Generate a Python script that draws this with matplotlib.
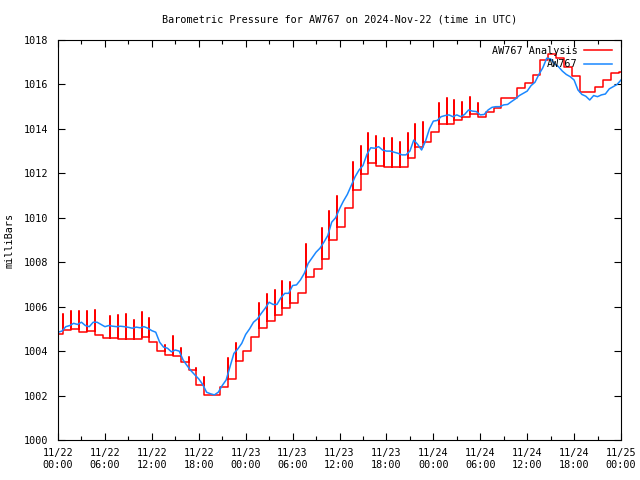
import numpy as np
import matplotlib
matplotlib.use("Agg")
from matplotlib import pyplot as plt
from matplotlib.ticker import MultipleLocator

# hours since 2024-11-22 00:00 UTC
tick_hours = list(range(0, 73, 6))
tick_labels = ["11/22\n00:00", "11/22\n06:00", "11/22\n12:00", "11/22\n18:00",
               "11/23\n00:00", "11/23\n06:00", "11/23\n12:00", "11/23\n18:00",
               "11/24\n00:00", "11/24\n06:00", "11/24\n12:00", "11/24\n18:00",
               "11/25\n00:00"]

# observed station pressure, every 30 min
obs_hours = np.arange(0, 72.01, 0.5)
obs_p = [
	1004.85, 1004.90, 1005.10, 1005.15, 1005.25, 1005.20, 1005.30, 1005.15, 1005.10, 1005.30, 1005.30, 1005.20,
	1005.10, 1005.15, 1005.12, 1005.10, 1005.12, 1005.10, 1005.07, 1005.03, 1005.08, 1005.05, 1005.10, 1005.03,
	1004.92, 1004.85, 1004.40, 1004.18, 1004.13, 1003.97, 1004.05, 1004.00, 1003.60, 1003.35, 1003.12, 1002.93,
	1002.75, 1002.50, 1002.15, 1002.08, 1002.03, 1002.15, 1002.45, 1002.70, 1003.30, 1003.90, 1004.10, 1004.35,
	1004.75, 1005.00, 1005.30, 1005.45, 1005.70, 1005.93, 1006.20, 1006.10, 1006.10, 1006.40, 1006.60, 1006.60,
	1006.95, 1006.98, 1007.20, 1007.50, 1007.95, 1008.20, 1008.45, 1008.63, 1008.90, 1009.20, 1009.80, 1010.00,
	1010.40, 1010.75, 1011.05, 1011.45, 1011.85, 1012.15, 1012.35, 1012.85, 1013.15, 1013.13, 1013.20, 1013.05,
	1013.00, 1013.00, 1012.95, 1012.90, 1012.83, 1012.83, 1013.00, 1013.50, 1013.30, 1013.05, 1013.45, 1014.00,
	1014.35, 1014.38, 1014.55, 1014.60, 1014.63, 1014.55, 1014.63, 1014.55, 1014.65, 1014.85, 1014.80, 1014.78,
	1014.63, 1014.65, 1014.85, 1014.97, 1015.00, 1015.00, 1015.08, 1015.10, 1015.23, 1015.35, 1015.50, 1015.60,
	1015.70, 1015.95, 1016.10, 1016.45, 1016.75, 1017.18, 1017.15, 1016.93, 1016.80, 1016.60, 1016.45, 1016.35,
	1016.20, 1015.75, 1015.55, 1015.47, 1015.30, 1015.50, 1015.45, 1015.53, 1015.57, 1015.80, 1015.90, 1016.00,
	1016.20]

# analysis, hourly step values (valid from hh:42)
ana_hours = np.arange(73) - 0.3
ana_p = [
	1004.77, 1004.93, 1004.98, 1004.86, 1004.90, 1004.72, 1004.59, 1004.59, 1004.53, 1004.56, 1004.53, 1004.62,
	1004.41, 1003.99, 1003.81, 1003.78, 1003.52, 1003.15, 1002.47, 1002.03, 1002.03, 1002.37, 1002.75, 1003.56,
	1004.02, 1004.62, 1005.05, 1005.34, 1005.63, 1005.92, 1006.15, 1006.60, 1007.35, 1007.70, 1008.15, 1009.00,
	1009.60, 1010.46, 1011.25, 1011.95, 1012.45, 1012.35, 1012.30, 1012.30, 1012.27, 1012.70, 1013.20, 1013.43,
	1013.85, 1014.20, 1014.20, 1014.40, 1014.55, 1014.65, 1014.55, 1014.78, 1014.93, 1015.38, 1015.40, 1015.83,
	1016.05, 1016.43, 1017.10, 1017.36, 1017.18, 1016.80, 1016.40, 1015.68, 1015.65, 1015.90, 1016.20, 1016.50,
	1016.58]
nan = np.nan
# short spikes in the analysis at each step (nan = none)
spike_p = [
	nan, 1005.65, 1005.80, 1005.82, 1005.80, 1005.85, nan, 1005.59, 1005.62, 1005.66, 1005.42, 1005.74,
	1005.51, nan, 1004.28, 1004.68, 1004.13, 1003.75, 1003.25, 1002.83, nan, nan, 1003.67, 1004.35,
	nan, nan, 1006.15, 1006.56, 1006.75, 1007.16, 1007.13, nan, 1008.82, nan, 1009.56, 1010.31,
	1011.00, nan, 1012.53, 1013.25, 1013.83, 1013.70, 1013.58, 1013.58, 1013.43, 1013.83, 1014.22, 1014.30,
	nan, 1015.15, 1015.38, 1015.30, 1015.23, 1015.45, 1015.15, nan, nan, nan, nan, nan,
	nan, nan, nan, nan, nan, nan, nan, nan, nan, nan, nan, nan,
	nan]

# build the step path with spikes
rx, ry = [], []
for t, a, s in zip(ana_hours, ana_p, spike_p):
	if not np.isnan(s):
		rx.append(t)
		ry.append(s)
	rx.append(t)
	ry.append(a)
rx.append(72)
ry.append(ana_p[-1])

font = "DejaVu Sans Mono"
fs = 7.3
plt.rcParams['font.family'] = font
plt.rcParams['font.size'] = fs

fig = plt.figure(figsize=(6.4, 4.8), dpi=100)
ax = fig.add_axes([58/640, 40/480, 563/640, 400/480])

ax.plot(rx, ry, color='#ff0000', lw=1.1, drawstyle='steps-post', label='AW767 Analysis')
ax.plot(obs_hours, obs_p, color='#1a88ff', lw=1.1, label='AW767')

ax.set_xlim(0, 72)
ax.set_ylim(1000, 1018)
ax.set_xticks(tick_hours)
ax.set_xticklabels(tick_labels)
ax.xaxis.set_minor_locator(MultipleLocator(3))
ax.yaxis.set_major_locator(MultipleLocator(2))
ax.tick_params(which='both', direction='in', top=True, right=True, width=0.8)
ax.tick_params(which='major', length=5)
ax.tick_params(which='minor', length=3)
ax.tick_params(axis='y', pad=7)
ax.tick_params(axis='x', pad=6)
for sp in ax.spines.values():
	sp.set_linewidth(0.8)

ax.set_ylabel("milliBars")
ax.yaxis.set_label_coords(-0.078, 0.5)
fig.text(340/640, 1 - 19/480, "Barometric Pressure for AW767 on 2024-Nov-22 (time in UTC)",
	ha='center', va='center')

ax.legend(loc='upper right', markerfirst=False, frameon=False, handlelength=2.8,
	handletextpad=0.6, labelspacing=0.35, borderaxespad=0.35, borderpad=0.2,
	bbox_to_anchor=(0.994, 1.0))

fig.savefig("out.png", dpi=100)
